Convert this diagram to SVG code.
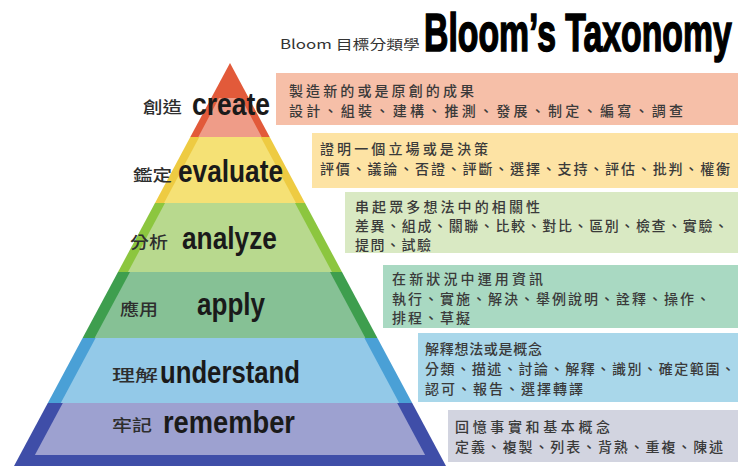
<svg xmlns="http://www.w3.org/2000/svg" width="738" height="468" viewBox="0 0 738 468">
<style>
.cjk{font-family:'Noto Sans CJK TC','Noto Sans CJK SC','Noto Sans',sans-serif;}
.box{font-size:14px;fill:#3a3a3a;font-weight:500;}
.zh{font-size:16px;fill:#2e2e2e;font-weight:500;}
.en{font-family:'Liberation Sans Narrow','Liberation Sans',Arial,sans-serif;font-weight:bold;font-size:31px;fill:#1a1a1a;}
</style>
<rect width="738" height="468" fill="#ffffff"/>
<g id="title">
<text x="280" y="49" class="cjk" font-size="13" fill="#333" textLength="140" lengthAdjust="spacingAndGlyphs">Bloom 目標分類學</text>
<text transform="translate(424,51) scale(0.618,1)" x="0" y="0" font-family="'Liberation Sans',Arial,sans-serif" font-weight="bold" font-size="54" fill="#000" stroke="#000" stroke-width="1.6" textLength="498" lengthAdjust="spacingAndGlyphs">Bloom’s Taxonomy</text>
</g>
<g id="level-create">
<polygon points="230,63 269.7,137 190.3,137" fill="#e25a3a"/>
<polygon points="219,98 241,98 261.7,137 198.3,137" fill="#ef9c88"/>
<rect x="276" y="73" width="462" height="52" fill="#f6bfa8"/>
<text x="289" y="96" class="cjk box" textLength="185">製造新的或是原創的成果</text>
<text x="289" y="116" class="cjk box" textLength="394">設計、組裝、建構、推測、發展、制定、編寫、調查</text>
<text x="143" y="113" class="cjk zh" textLength="39" lengthAdjust="spacingAndGlyphs">創造</text>
<text x="192" y="115" class="en" font-size="32" textLength="78" lengthAdjust="spacingAndGlyphs">create</text>
</g>
<g id="level-evaluate">
<polygon points="190.3,137 269.7,137 305,203 155,203" fill="#eecb42"/>
<polygon points="199.3,137 260.7,137 296,203 164,203" fill="#f5e175"/>
<rect x="312" y="133" width="426" height="55" fill="#fde3a4"/>
<text x="320" y="154" class="cjk box" textLength="168">證明一個立場或是決策</text>
<text x="320" y="174" class="cjk box" textLength="410">評價、議論、否證、評斷、選擇、支持、評估、批判、權衡</text>
<text x="133" y="181" class="cjk zh" textLength="39" lengthAdjust="spacingAndGlyphs">鑑定</text>
<text x="178" y="182" class="en" textLength="105" lengthAdjust="spacingAndGlyphs">evaluate</text>
</g>
<g id="level-analyze">
<polygon points="155,203 305,203 342,272 118,272" fill="#8cc63f"/>
<polygon points="165,203 295,203 332,272 128,272" fill="#b8d98e"/>
<rect x="345" y="192" width="393" height="61" fill="#d9e9c3"/>
<text x="355" y="212" class="cjk box" textLength="185">串起眾多想法中的相關性</text>
<text x="355" y="231" class="cjk box" textLength="373">差異、組成、關聯、比較、對比、區別、檢查、實驗、</text>
<text x="355" y="250" class="cjk box" textLength="76">提問、試驗</text>
<text x="130" y="248" class="cjk zh" textLength="38" lengthAdjust="spacingAndGlyphs">分析</text>
<text x="182" y="249" class="en" textLength="95" lengthAdjust="spacingAndGlyphs">analyze</text>
</g>
<g id="level-apply">
<polygon points="118,272 342,272 377.4,338 82.6,338" fill="#3e9e4e"/>
<polygon points="130,272 330,272 365.4,338 94.6,338" fill="#86c195"/>
<rect x="383" y="265" width="355" height="63" fill="#a9d9c2"/>
<text x="392" y="284" class="cjk box" textLength="151">在新狀況中運用資訊</text>
<text x="392" y="304" class="cjk box" textLength="318">執行、實施、解決、舉例說明、詮釋、操作、</text>
<text x="392" y="323" class="cjk box" textLength="78">排程、草擬</text>
<text x="120" y="315" class="cjk zh" textLength="38" lengthAdjust="spacingAndGlyphs">應用</text>
<text x="197" y="315" class="en" textLength="68" lengthAdjust="spacingAndGlyphs">apply</text>
</g>
<g id="level-understand">
<polygon points="82.6,338 377.4,338 412.2,403 47.8,403" fill="#4aa0d6"/>
<polygon points="95.6,338 364.4,338 399.2,403 60.8,403" fill="#93c9e8"/>
<rect x="418" y="333" width="320" height="69" fill="#a9d7ea"/>
<text x="425" y="354" class="cjk box" textLength="117">解釋想法或是概念</text>
<text x="425" y="374" class="cjk box" textLength="310">分類、描述、討論、解釋、識別、確定範圍、</text>
<text x="425" y="394" class="cjk box" textLength="158">認可、報告、選擇轉譯</text>
<text x="112" y="381" class="cjk zh" textLength="46" lengthAdjust="spacingAndGlyphs">理解</text>
<text x="160" y="383" class="en" textLength="140" lengthAdjust="spacingAndGlyphs">understand</text>
</g>
<g id="level-remember">
<polygon points="47.8,403 412.2,403 446,466 14,466" fill="#3f4ea8"/>
<polygon points="62.8,403 397.2,403 425.1,455 34.9,455" fill="#9da1d0"/>
<rect x="448" y="410" width="290" height="52" fill="#d2d4e0"/>
<text x="455" y="432" class="cjk box" textLength="155">回憶事實和基本概念</text>
<text x="455" y="452" class="cjk box" textLength="268">定義、複製、列表、背熟、重複、陳述</text>
<text x="112" y="431" class="cjk zh" textLength="40" lengthAdjust="spacingAndGlyphs">牢記</text>
<text x="163" y="433" class="en" textLength="132" lengthAdjust="spacingAndGlyphs">remember</text>
</g>
</svg>
